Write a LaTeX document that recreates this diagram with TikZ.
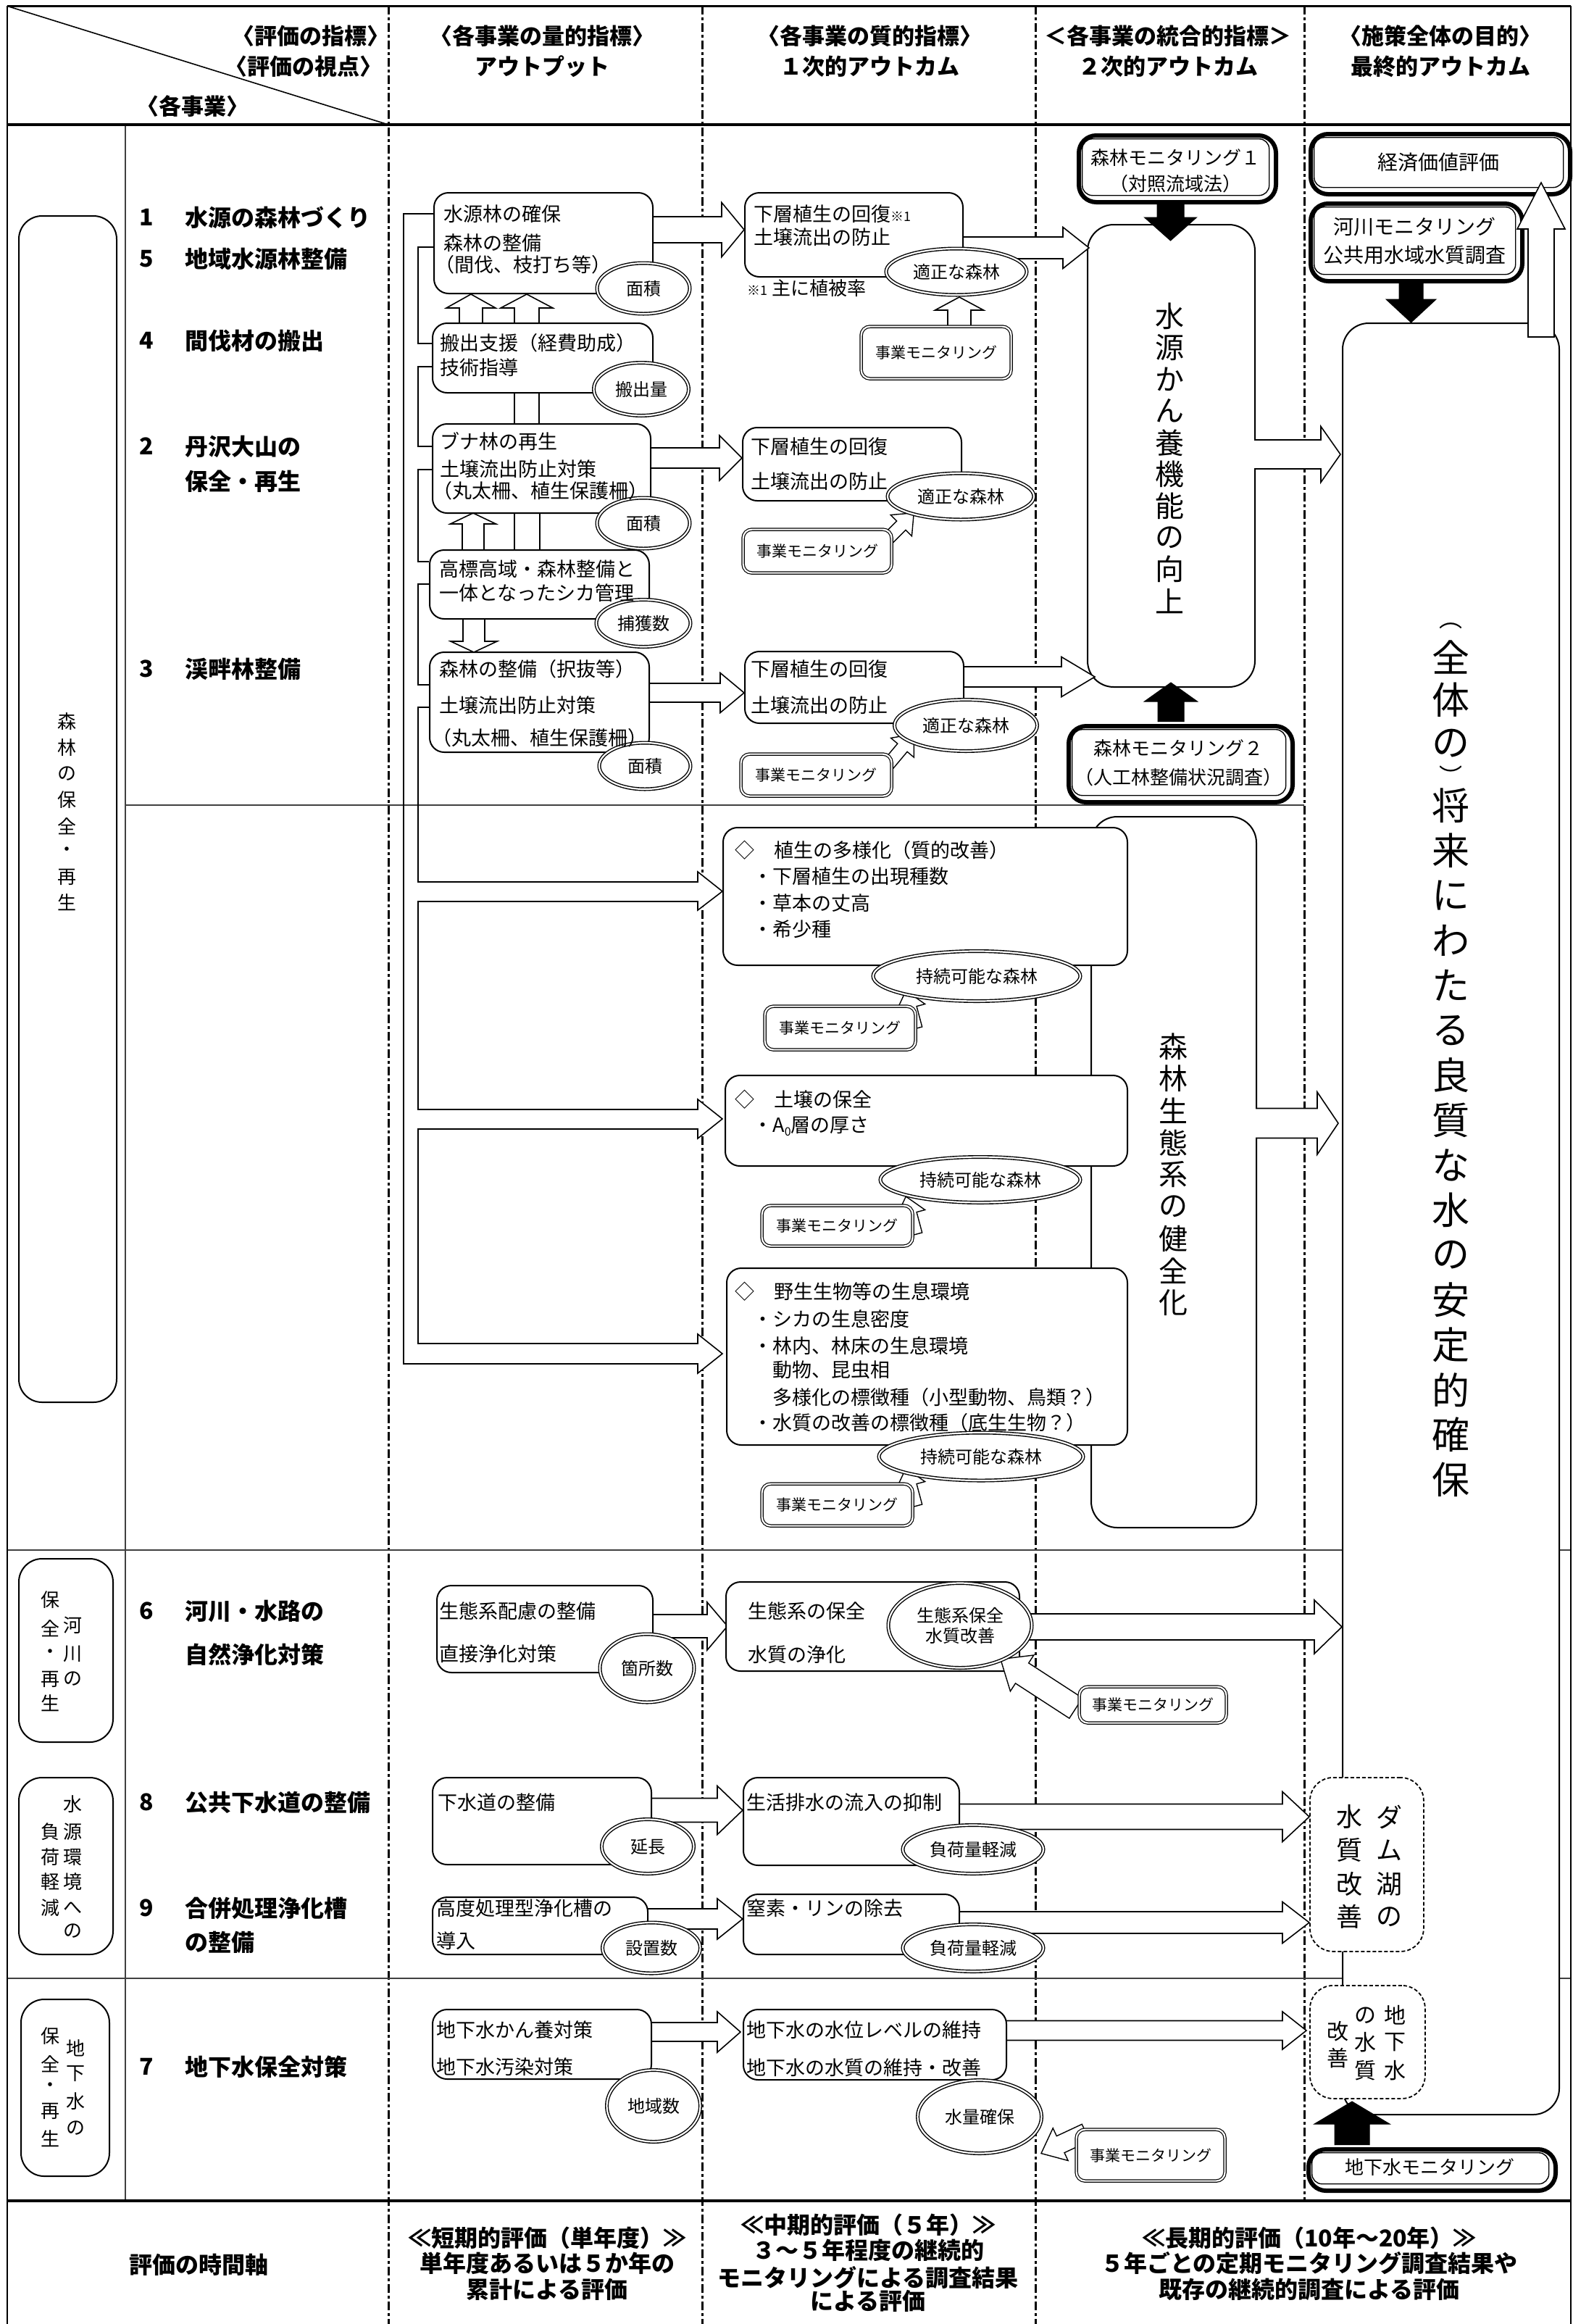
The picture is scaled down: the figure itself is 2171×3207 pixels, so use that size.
\documentclass[tikz,border=0pt]{standalone}
\usepackage{fontspec}
\setmainfont{Noto Sans CJK JP}
\usetikzlibrary{shapes.geometric,shapes.arrows}
\newcounter{tn}
\newcommand\ftBox{\fontsize{13.5pt}{16pt}\selectfont}
\newcommand\ftHead{\fontsize{15.5pt}{18pt}\selectfont\bfseries}
\newcommand\ftProj{\fontsize{16pt}{19pt}\selectfont\bfseries}
\newcommand\ftEl{\fontsize{12pt}{14pt}\selectfont}
\newcommand\ftMon{\fontsize{10.5pt}{12pt}\selectfont}
\newcommand\ftGrp{\fontsize{13pt}{15pt}\selectfont}
\newcommand\ftVert{\fontsize{20pt}{22pt}\selectfont}
\newcommand\ftFinal{\fontsize{26pt}{28pt}\selectfont}
\newcommand\ftParen{\fontsize{16pt}{18pt}\selectfont}
\newcommand\ftK{\fontsize{13pt}{15pt}\selectfont}
\newcommand\ftR{\fontsize{14pt}{16pt}\selectfont}
\newcommand\ftDash{\fontsize{18pt}{20pt}\selectfont}
\newcommand\ftDashB{\fontsize{15pt}{17pt}\selectfont}
\newcommand\ftBot{\fontsize{16pt}{19pt}\selectfont\bfseries}
\newcommand\ftNote{\fontsize{13pt}{15pt}\selectfont}
\newcommand\bxat[7][]{%
  \pgfmathsetmacro\bxw{((#5)-(#3))*0.5}%
  \pgfmathsetmacro\bxh{((#6)-(#4))*0.5}%
  \node[#1, anchor=north west, minimum width=\bxw pt, minimum height=\bxh pt, inner sep=0pt] (#2) at (#3,#4) {#7};}
\newcommand\tx[4][]{\stepcounter{tn}\node[txt,#1] (t\arabic{tn}) at (#2,#3) {#4};}
\newcommand\harr[6]{\draw[harrow] (#1,#4-#5) -- (#2,#4-#5) -- (#2,#4-#6) -- (#3,#4) -- (#2,#4+#6) -- (#2,#4+#5) -- (#1,#4+#5);}
\newcommand\varr[7][harrow]{\draw[#1] (#2-#6,#3) -- (#2-#6,#4) -- (#2-#7,#4) -- (#2,#5) -- (#2+#7,#4) -- (#2+#6,#4) -- (#2+#6,#3);}
\newcommand\sarr[6][]{\node[sarrow, #1, minimum height=#6 pt, rotate=#5, anchor=tip] (#2) at (#3,#4) {};}
\newcommand\tbox[5]{%
  \bxat[tbo]{#1}{#2+3}{#3+3}{#4-3}{#5-3}{}%
  \bxat[tbi]{#1i}{#2+10}{#3+10}{#4-10}{#5-10}{}}
\tikzset{
 txt/.style={inner sep=0pt, anchor=west},
 divider/.style={line width=1.5pt, dash pattern=on 6pt off 2pt on 2pt off 2pt},
 sepl/.style={line width=1pt, black!75},
 bx/.style={draw, line width=1pt, rounded corners=10pt, fill=white},
 bigbx/.style={draw, line width=1pt, rounded corners=18pt, fill=white},
 grp/.style={draw, line width=1pt, rounded corners=16pt},
 dbx/.style={draw, line width=0.6pt, double, double distance=1.1pt, rounded corners=6pt, fill=white},
 tbo/.style={draw, line width=3pt, rounded corners=12pt, fill=white},
 tbi/.style={draw, line width=0.7pt, rounded corners=7pt},
 dsh/.style={draw, line width=0.9pt, dash pattern=on 2.5pt off 1.5pt, rounded corners=16pt, fill=white},
 el/.style={draw, ellipse, line width=0.7pt, double, double distance=1.1pt, fill=white, inner sep=0pt},
 harrow/.style={draw, fill=white, line width=0.8pt, line join=miter},
 blk/.style={draw, fill=black, line width=0.5pt},
 pipe/.style={line width=0.8pt},
 sarrow/.style={single arrow, draw, fill=white, line width=0.7pt, inner sep=4pt, single arrow head extend=6pt, single arrow tip angle=80},
}
\begin{document}
\begin{tikzpicture}[x=0.5pt,y=-0.5pt]
\path[use as bounding box, fill=white] (0,0) rectangle (2171,3207);
% ---------- grid ----------
\foreach \x in {536,969,1429} \draw[divider] (\x,8) -- (\x,3207);
\draw[divider] (1800,8) -- (1800,3037);
\draw[sepl] (173,172) -- (173,3037);
\draw[sepl] (173,1111) -- (1800,1111);
\draw[sepl] (10,2139) -- (2168,2139);
\draw[sepl] (10,2730) -- (2168,2730);
\draw[line width=1.5pt] (10,8) -- (2168,8);
\draw[line width=1pt] (10,8) -- (10,3207);
\draw[line width=1pt] (2168,8) -- (2168,3207);
\draw[line width=2pt] (10,172) -- (2168,172);
\draw[line width=2pt] (10,3037) -- (2168,3037);
\draw[line width=0.8pt] (12,9) -- (536,172);
% ---------- header ----------
\tx[anchor=east,font=\ftHead]{538}{50}{〈評価の指標〉}
\tx[anchor=east,font=\ftHead]{528}{92}{〈評価の視点〉}
\tx[anchor=center,font=\ftHead]{266}{147}{〈各事業〉}
\tx[anchor=center,font=\ftHead]{748}{50}{〈各事業の量的指標〉}
\tx[anchor=center,font=\ftHead]{748}{92}{アウトプット}
\tx[anchor=center,font=\ftHead]{1200}{50}{〈各事業の質的指標〉}
\tx[anchor=center,font=\ftHead]{1200}{92}{１次的アウトカム}
\tx[anchor=center,font=\ftHead]{1612}{50}{＜各事業の統合的指標＞}
\tx[anchor=center,font=\ftHead]{1612}{92}{２次的アウトカム}
\tx[anchor=center,font=\ftHead]{1988}{50}{〈施策全体の目的〉}
\tx[anchor=center,font=\ftHead]{1988}{92}{最終的アウトカム}
% ---------- group boxes ----------
\bxat[grp]{G1}{25}{297}{160}{1934}{}
\bxat[grp]{G2}{25}{2150}{155}{2403}{}
\bxat[grp]{G3}{25}{2452}{155}{2696}{}
\bxat[grp]{G4}{28}{2758}{150}{3002}{}
\foreach \c/\y in {森/996,林/1032,の/1068,保/1104,全/1140,・/1175,再/1210,生/1245}{\tx[anchor=center,font=\ftGrp]{92}{\y}{\c}}
\foreach \c/\y in {保/2208,全/2247,・/2282,再/2317,生/2350}{\tx[anchor=center,font=\ftGrp]{69}{\y}{\c}}
\foreach \c/\y in {河/2243,川/2282,の/2317}{\tx[anchor=center,font=\ftGrp]{100}{\y}{\c}}
\foreach \c/\y in {水/2490,源/2528,環/2563,境/2597,へ/2633,の/2665}{\tx[anchor=center,font=\ftGrp]{100}{\y}{\c}}
\foreach \c/\y in {負/2528,荷/2563,軽/2597,減/2633}{\tx[anchor=center,font=\ftGrp]{69}{\y}{\c}}
\foreach \c/\y in {保/2810,全/2848,・/2880,再/2913,生/2951}{\tx[anchor=center,font=\ftGrp]{69}{\y}{\c}}
\foreach \c/\y in {地/2826,下/2862,水/2900,の/2937}{\tx[anchor=center,font=\ftGrp]{104}{\y}{\c}}
% ---------- project labels ----------
\foreach \n/\t/\y in {1/水源の森林づくり/300, 5/地域水源林整備/357, 4/間伐材の搬出/470, 2/丹沢大山の/616, 3/渓畔林整備/923, 6/河川・水路の/2223, 8/公共下水道の整備/2487, 9/合併処理浄化槽/2633, 7/地下水保全対策/2852}{%
  \tx[font=\ftProj]{192}{\y}{\n}\tx[font=\ftProj]{255}{\y}{\t}}
\tx[font=\ftProj]{255}{664}{保全・再生}
\tx[font=\ftProj]{255}{2283}{自然浄化対策}
\tx[font=\ftProj]{255}{2680}{の整備}
% ---------- big boxes ----------
\bxat[bigbx]{W}{1500}{309}{1731}{947}{}
\bxat[bigbx]{S}{1505}{1126}{1733}{2107}{}
\bxat[bigbx]{Z}{1852}{445}{2151}{2917}{}
% ---------- hollow arrows ----------
\harr{900}{996}{1027}{317}{18}{37.5}
\harr{897}{993}{1024}{632}{14}{31}
\harr{895}{994}{1027}{956}{13}{27.5}
\harr{1328}{1467}{1503}{342}{15}{28.5}
\harr{1329}{1465}{1511}{934}{14}{27.5}
\harr{1731}{1823}{1850}{627}{20}{38.5}
\harr{1733}{1818}{1847}{1550}{20.5}{43}
\harr{900}{976}{1004}{2244}{16}{33}
\harr{1410}{1814}{1852}{2245}{18}{37}
\harr{898}{990}{1025}{2498}{16.5}{33.5}
\harr{1323}{1770}{1807}{2507}{17.5}{34.5}
\harr{893}{990}{1025}{2648}{14}{28}
\harr{1323}{1770}{1807}{2653}{15}{28.5}
\harr{898}{990}{1022}{2804}{13}{28}
\harr{1388}{1770}{1803}{2802}{13.5}{26}
% small vertical arrows in column 2
\varr{650}{445}{425}{406}{16}{34}
\varr{727}{445}{425}{406}{17}{36}
\varr{653}{758}{723}{708}{15}{31.5}
\varr{654}{853}{885}{900}{15}{32}
\draw[pipe] (710,541) -- (710,584); \draw[pipe] (744,541) -- (744,584);
\draw[pipe] (710,707) -- (710,758); \draw[pipe] (745,707) -- (745,758);
% ---------- pipe (bracket) ----------
\foreach \yc in {1230,1544,1868}{\fill[white] (963,\yc-13) -- (963,\yc-27) -- (997,\yc) -- (963,\yc+27) -- (963,\yc+13) -- cycle;}
\draw[pipe] (598,341) -- (577,341) -- (577,474) -- (596,474);
\draw[pipe] (596,506) -- (577,506) -- (577,616) -- (596,616);
\draw[pipe] (596,648) -- (577,648) -- (577,775) -- (592,775);
\draw[pipe] (592,806) -- (577,806) -- (577,945) -- (592,945);
\draw[pipe, line join=miter] (592,976) -- (577,976) -- (577,1217) -- (963,1217) -- (963,1203) -- (997,1230) -- (963,1256) -- (963,1244) -- (577,1244)
  -- (577,1531) -- (963,1531) -- (963,1517) -- (997,1544) -- (963,1571) -- (963,1558) -- (577,1558)
  -- (577,1854) -- (963,1854) -- (963,1841) -- (997,1868) -- (963,1895) -- (963,1882) -- (557,1882)
  -- (557,295) -- (598,295);
% ---------- column 2 boxes ----------
\bxat[bx]{A}{598}{265}{900}{404}{}
\bxat[bx]{B}{596}{445}{900}{541}{}
\bxat[bx]{C}{596}{584}{897}{707}{}
\bxat[bx]{D}{592}{758}{895}{853}{}
\bxat[bx]{E}{592}{899}{895}{1037}{}
\bxat[bx]{P6}{602}{2187}{900}{2307}{}
\bxat[bx]{P8}{596}{2452}{898}{2572}{}
\bxat[bx]{P9}{596}{2617}{893}{2696}{}
\bxat[bx]{P7}{596}{2772}{898}{2868}{}
% ---------- column 3 boxes ----------
\bxat[bx]{F}{1027}{265}{1328}{381}{}
\bxat[bx]{Gb}{1024}{589}{1326}{690}{}
\bxat[bx]{H}{1027}{898}{1329}{997}{}
\bxat[bx]{L1}{997}{1141}{1555}{1331}{}
\bxat[bx]{L2}{1000}{1483}{1555}{1608}{}
\bxat[bx]{L3}{1002}{1749}{1555}{1993}{}
\bxat[bx]{Q6}{1001}{2182}{1406}{2305}{}
\bxat[bx]{Q8}{1025}{2452}{1323}{2573}{}
\bxat[bx]{Q9}{1025}{2613}{1323}{2696}{}
\bxat[bx]{Q7}{1025}{2772}{1388}{2869}{}
% ---------- monitoring arrows ----------
\varr{1324}{450}{428}{410}{16}{33.5}
\sarr{a2}{1262}{707}{45}{30}
\sarr{a3}{1262}{1012}{50}{28}
\sarr{a4}{1250}{1366}{105}{27}
\sarr{a5}{1250}{1650}{105}{27}
\sarr{a6}{1250}{2025}{105}{27}
\sarr[inner sep=8pt, single arrow head extend=6.5pt]{a7}{1380}{2289}{147}{62}
\sarr[inner sep=6pt, single arrow head extend=6pt]{a8}{1436}{2972}{205}{34}
% ---------- monitoring boxes ----------
\bxat[dbx]{M1}{1188}{450}{1395}{522}{\ftMon 事業モニタリング}
\bxat[dbx]{M2}{1025}{730}{1230}{790}{\ftMon 事業モニタリング}
\bxat[dbx]{M3}{1022}{1040}{1230}{1098}{\ftMon 事業モニタリング}
\bxat[dbx]{M4}{1055}{1388}{1263}{1448}{\ftMon 事業モニタリング}
\bxat[dbx]{M5}{1051}{1663}{1259}{1719}{\ftMon 事業モニタリング}
\bxat[dbx]{M6}{1051}{2047}{1259}{2105}{\ftMon 事業モニタリング}
\bxat[dbx]{M7}{1489}{2327}{1692}{2377}{\ftMon 事業モニタリング}
\bxat[dbx]{M8}{1485}{2938}{1690}{3009}{\ftMon 事業モニタリング}
% ---------- ellipses ----------
\node[el, minimum width=64pt, minimum height=35pt] (eA) at (888,398) {\ftEl 面積};
\node[el, minimum width=65.5pt, minimum height=36.5pt] (eB) at (885,537) {\ftEl 搬出量};
\node[el, minimum width=64pt, minimum height=35pt] (eC) at (888,722) {\ftEl 面積};
\node[el, minimum width=65pt, minimum height=32.5pt] (eD) at (888,860) {\ftEl 捕獲数};
\node[el, minimum width=63pt, minimum height=32pt] (eE) at (890,1057) {\ftEl 面積};
\node[el, minimum width=97pt, minimum height=32pt] (eF) at (1320,375) {\ftEl 適正な森林};
\node[el, minimum width=101pt, minimum height=32pt] (eG) at (1326,685) {\ftEl 適正な森林};
\node[el, minimum width=98.5pt, minimum height=35.5pt] (eH) at (1333,1001) {\ftEl 適正な森林};
\node[el, minimum width=143pt, minimum height=34.5pt] (eL1) at (1348,1347) {\ftEl 持続可能な森林};
\node[el, minimum width=138pt, minimum height=31.5pt] (eL2) at (1353,1628) {\ftEl 持続可能な森林};
\node[el, minimum width=141pt, minimum height=33pt] (eL3) at (1354,2010) {\ftEl 持続可能な森林};
\node[el, minimum width=65pt, minimum height=47pt] (e6a) at (893,2302) {\ftEl 箇所数};
\node[el, minimum width=99pt, minimum height=58.5pt, align=center] (e6b) at (1325,2243) {\ftEl 生態系保全\\[2pt]\ftEl 水質改善};
\node[el, minimum width=63.5pt, minimum height=37.5pt] (e8a) at (894,2548) {\ftEl 延長};
\node[el, minimum width=97pt, minimum height=33.5pt] (e8b) at (1343,2552) {\ftEl 負荷量軽減};
\node[el, minimum width=67.5pt, minimum height=35pt] (e9a) at (899,2688) {\ftEl 設置数};
\node[el, minimum width=97pt, minimum height=32.5pt] (e9b) at (1343,2688) {\ftEl 負荷量軽減};
\node[el, minimum width=64.5pt, minimum height=49.5pt] (e7a) at (902,2906) {\ftEl 地域数};
\node[el, minimum width=85.5pt, minimum height=50.5pt] (e7b) at (1352,2921) {\ftEl 水量確保};
% ---------- texts in column 2 ----------
\tx[font=\ftBox]{612}{295}{水源林の確保}
\tx[font=\ftBox]{612}{335}{森林の整備}
\tx[font=\ftBox]{600}{365}{（間伐、枝打ち等）}
\tx[font=\ftBox]{607}{473}{搬出支援（経費助成）}
\tx[font=\ftBox]{607}{507}{技術指導}
\tx[font=\ftBox]{607}{609}{ブナ林の再生}
\tx[font=\ftBox]{607}{647}{土壌流出防止対策}
\tx[font=\ftBox]{597}{677}{（丸太柵、植生保護柵）}
\tx[font=\ftBox]{606}{785}{高標高域・森林整備と}
\tx[font=\ftBox]{606}{818}{一体となったシカ管理}
\tx[font=\ftBox]{606}{923}{森林の整備（択抜等）}
\tx[font=\ftBox]{606}{973}{土壌流出防止対策}
\tx[font=\ftBox]{596}{1018}{（丸太柵、植生保護柵）}
\tx[font=\ftBox]{606}{2223}{生態系配慮の整備}
\tx[font=\ftBox]{606}{2282}{直接浄化対策}
\tx[font=\ftBox]{604}{2487}{下水道の整備}
\tx[font=\ftBox]{602}{2633}{高度処理型浄化槽の}
\tx[font=\ftBox]{602}{2678}{導入}
\tx[font=\ftBox]{602}{2801}{地下水かん養対策}
\tx[font=\ftBox]{602}{2852}{地下水汚染対策}
% ---------- texts in column 3 ----------
\tx[font=\ftBox]{1040}{295}{下層植生の回復{\fontsize{9pt}{9pt}\selectfont ※1}}
\tx[font=\ftBox]{1040}{327}{土壌流出の防止}
\tx[font=\ftNote]{1031}{398}{{\fontsize{9pt}{9pt}\selectfont ※1} 主に植被率}
\tx[font=\ftBox]{1036}{616}{下層植生の回復}
\tx[font=\ftBox]{1036}{664}{土壌流出の防止}
\tx[font=\ftBox]{1036}{923}{下層植生の回復}
\tx[font=\ftBox]{1036}{973}{土壌流出の防止}
\tx[font=\ftBox]{1014}{1173}{◇　植生の多様化（質的改善）}
\tx[font=\ftBox]{1039}{1209}{・下層植生の出現種数}
\tx[font=\ftBox]{1039}{1246}{・草本の丈高}
\tx[font=\ftBox]{1039}{1282}{・希少種}
\tx[font=\ftBox]{1014}{1517}{◇　土壌の保全}
\tx[font=\ftBox]{1039}{1554}{・A\raisebox{-0.35ex}{\fontsize{8pt}{8pt}\selectfont 0}層の厚さ}
\tx[font=\ftBox]{1014}{1782}{◇　野生生物等の生息環境}
\tx[font=\ftBox]{1039}{1820}{・シカの生息密度}
\tx[font=\ftBox]{1039}{1857}{・林内、林床の生息環境}
\tx[font=\ftBox]{1066}{1890}{動物、昆虫相}
\tx[font=\ftBox]{1066}{1928}{多様化の標徴種（小型動物、鳥類？）}
\tx[font=\ftBox]{1039}{1963}{・水質の改善の標徴種（底生生物？）}
\tx[font=\ftBox]{1032}{2223}{生態系の保全}
\tx[font=\ftBox]{1032}{2283}{水質の浄化}
\tx[font=\ftBox]{1030}{2487}{生活排水の流入の抑制}
\tx[font=\ftBox]{1030}{2633}{窒素・リンの除去}
\tx[font=\ftBox]{1030}{2801}{地下水の水位レベルの維持}
\tx[font=\ftBox]{1030}{2853}{地下水の水質の維持・改善}
% ---------- column 4 ----------
\tbox{K1}{1483}{181}{1761}{279}
\tx[anchor=center,font=\ftK]{1622}{218}{森林モニタリング１}
\tx[anchor=center,font=\ftK]{1622}{254}{（対照流域法）}
\tbox{K2}{1469}{996}{1784}{1107}
\tx[anchor=center,font=\ftK]{1626}{1033}{森林モニタリング２}
\tx[anchor=center,font=\ftK]{1626}{1073}{（人工林整備状況調査）}
\varr[blk]{1615.5}{279}{300}{332}{18.5}{36}
\varr[blk]{1616}{996}{968}{942}{18}{36.5}
\foreach \c [count=\i from 0] in {水,源,か,ん,養,機,能,の,向,上}{\pgfmathsetmacro\yy{436+43.7*\i}\tx[anchor=center,font=\ftVert]{1614}{\yy}{\c}}
\foreach \c [count=\i from 0] in {森,林,生,態,系,の,健,全,化}{\pgfmathsetmacro\yy{1444+44.2*\i}\tx[anchor=center,font=\ftVert]{1619}{\yy}{\c}}
% ---------- column 5 ----------
\tbox{E1}{1803}{179}{2167}{268}
\tx[anchor=center,font=\ftR]{1985}{224}{経済価値評価}
\tbox{R1}{1803}{275}{2101}{388}
\tx[anchor=center,font=\ftR]{1952}{313}{河川モニタリング}
\tx[anchor=center,font=\ftR]{1952}{352}{公共用水域水質調査}
\varr[blk]{1947.5}{388}{413}{445}{16.5}{34.5}
\draw[harrow] (2109,465) -- (2109,316) -- (2094,316) -- (2127,252) -- (2160,316) -- (2145,316) -- (2145,465) -- cycle;
\tx[anchor=center,font=\ftParen]{2002}{864}{︵}
\tx[anchor=center,font=\ftParen]{2002}{1070}{︶}
\foreach \c/\y in {全/907,体/966,の/1026}{\tx[anchor=center,font=\ftFinal]{2002}{\y}{\c}}
\foreach \c [count=\i from 0] in {将,来,に,わ,た,る,良,質,な,水,の,安,定,的,確,保}{\pgfmathsetmacro\yy{1112+62*\i}\tx[anchor=center,font=\ftFinal]{2002}{\yy}{\c}}
\bxat[dsh]{DK}{1807}{2452}{1964}{2692}{}
\foreach \c/\y in {ダ/2507,ム/2553,湖/2600,の/2645}{\tx[anchor=center,font=\ftDash]{1917}{\y}{\c}}
\foreach \c/\y in {水/2507,質/2553,改/2600,善/2645}{\tx[anchor=center,font=\ftDash]{1862}{\y}{\c}}
\bxat[dsh]{DG}{1807}{2739}{1966}{2895}{}
\foreach \c/\y in {地/2781,下/2818,水/2857}{\tx[anchor=center,font=\ftDashB]{1925}{\y}{\c}}
\foreach \c/\y in {の/2781,水/2818,質/2857}{\tx[anchor=center,font=\ftDashB]{1884}{\y}{\c}}
\foreach \c/\y in {改/2803,善/2840}{\tx[anchor=center,font=\ftDashB]{1846}{\y}{\c}}
\tbox{GW}{1800}{2960}{2147}{3023}
\tx[anchor=center,font=\ftK]{1973}{2991}{地下水モニタリング}
\varr[blk]{1866}{2960}{2931}{2900}{24}{52}
% ---------- bottom row ----------
\tx[anchor=center,font=\ftBot]{274}{3125}{評価の時間軸}
\tx[anchor=center,font=\ftBot]{755}{3088}{≪短期的評価（単年度）≫}
\tx[anchor=center,font=\ftBot]{755}{3123}{単年度あるいは５か年の}
\tx[anchor=center,font=\ftBot]{755}{3159}{累計による評価}
\tx[anchor=center,font=\ftBot]{1198}{3070}{≪中期的評価（５年）≫}
\tx[anchor=center,font=\ftBot]{1198}{3105}{３～５年程度の継続的}
\tx[anchor=center,font=\ftBot]{1198}{3143}{モニタリングによる調査結果}
\tx[anchor=center,font=\ftBot]{1198}{3175}{による評価}
\tx[anchor=center,font=\ftBot]{1807}{3088}{≪長期的評価（10年～20年）≫}
\tx[anchor=center,font=\ftBot]{1807}{3123}{５年ごとの定期モニタリング調査結果や}
\tx[anchor=center,font=\ftBot]{1807}{3159}{既存の継続的調査による評価}
\end{tikzpicture}
\end{document}
